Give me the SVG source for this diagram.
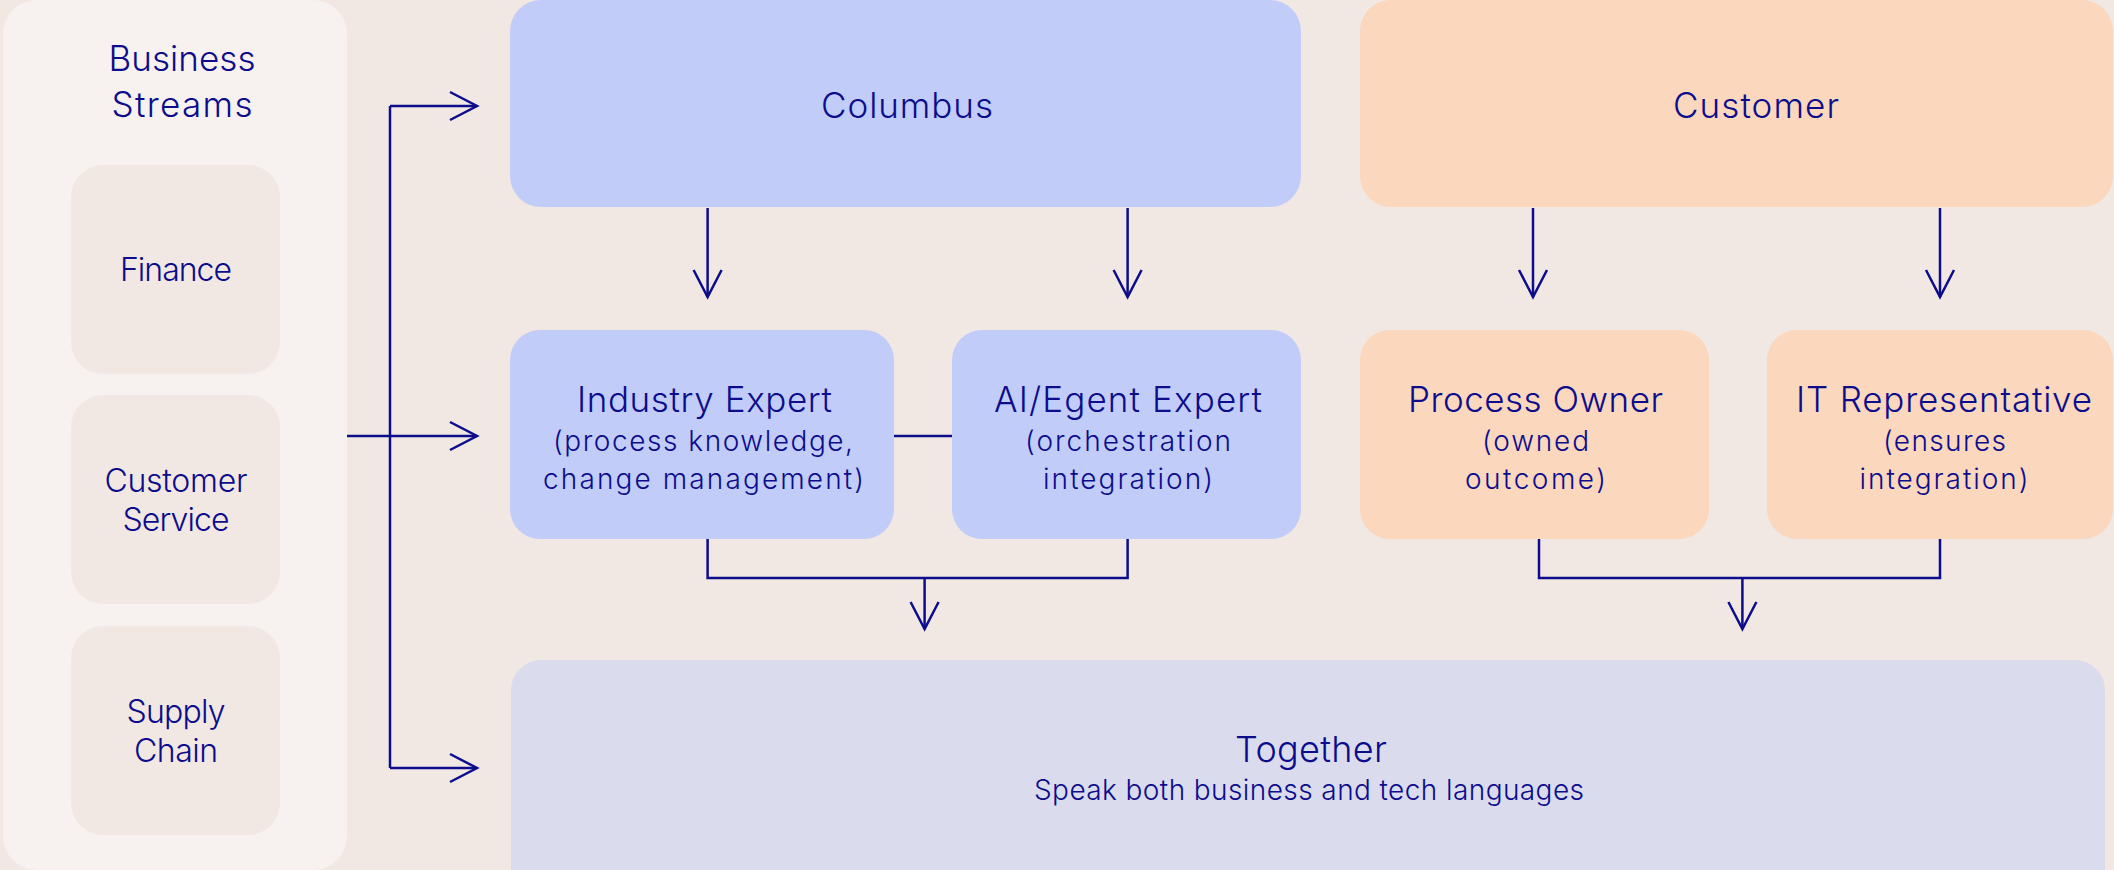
<svg xmlns="http://www.w3.org/2000/svg" width="2114" height="870" viewBox="0 0 2114 870">
<defs>
<style>
.t{font-family:Inter,"Liberation Sans",Arial,sans-serif;fill:#0c0c8c;text-anchor:middle;font-weight:300}
.h{font-size:35px}
.s{font-size:32px}
.d{font-size:28px}
.c{fill:none;stroke:#0c0c8c;stroke-width:2.5}
.ar{marker-end:url(#ah)}
.blue{fill:#c2ccf9}
.peach{fill:#fad7bd}
</style>
<marker id="ah" markerUnits="userSpaceOnUse" markerWidth="32" markerHeight="34" refX="28" refY="16" orient="auto" overflow="visible">
<path d="M1,2 L28,16 L1,30" fill="none" stroke="#0c0c8c" stroke-width="2.5" stroke-linejoin="miter"/>
</marker>
</defs>
<rect x="0" y="0" width="2114" height="870" fill="#f2e8e3"/>

<g id="business-streams">
<rect x="3" y="0" width="344" height="870" rx="34" fill="#f7f2ef"/>
<text class="t h" x="182" y="70.7" textLength="147" lengthAdjust="spacing">Business</text>
<text class="t h" x="182" y="117.3" textLength="141" lengthAdjust="spacing">Streams</text>
</g>
<g id="finance">
<rect x="71" y="165" width="209" height="209" rx="32" fill="#f2e8e3"/>
<text class="t s" x="176" y="281" textLength="112" lengthAdjust="spacing">Finance</text>
</g>
<g id="customer-service">
<rect x="71" y="395" width="209" height="209" rx="32" fill="#f2e8e3"/>
<text class="t s" x="176" y="492.3" textLength="143" lengthAdjust="spacing">Customer</text>
<text class="t s" x="176" y="530.7" textLength="107" lengthAdjust="spacing">Service</text>
</g>
<g id="supply-chain">
<rect x="71" y="626" width="209" height="209" rx="32" fill="#f2e8e3"/>
<text class="t s" x="176" y="723.3" textLength="99" lengthAdjust="spacing">Supply</text>
<text class="t s" x="176" y="761.7" textLength="84" lengthAdjust="spacing">Chain</text>
</g>

<g id="columbus">
<rect class="blue" x="510" y="0" width="791" height="207" rx="31"/>
<text class="t h" x="907" y="118" textLength="172" lengthAdjust="spacing">Columbus</text>
</g>
<g id="customer">
<rect class="peach" x="1360" y="0" width="753" height="207" rx="31"/>
<text class="t h" x="1756" y="118.3" textLength="166" lengthAdjust="spacing">Customer</text>
</g>

<g id="industry-expert">
<rect class="blue" x="510" y="330" width="384" height="209" rx="30"/>
<text class="t h" x="704.5" y="411.5" textLength="255" lengthAdjust="spacing">Industry Expert</text>
<text class="t d" x="703" y="450.5" textLength="300" lengthAdjust="spacing">(process knowledge,</text>
<text class="t d" x="703.5" y="488.5" textLength="321" lengthAdjust="spacing">change management)</text>
</g>
<g id="ai-egent-expert">
<rect class="blue" x="952" y="330" width="349" height="209" rx="30"/>
<text class="t h" x="1128" y="411.5" textLength="268" lengthAdjust="spacing">AI/Egent Expert</text>
<text class="t d" x="1128" y="450.5" textLength="206" lengthAdjust="spacing">(orchestration</text>
<text class="t d" x="1128" y="488.5" textLength="170" lengthAdjust="spacing">integration)</text>
</g>
<g id="process-owner">
<rect class="peach" x="1360" y="330" width="349" height="209" rx="30"/>
<text class="t h" x="1535.5" y="411.5" textLength="255" lengthAdjust="spacing">Process Owner</text>
<text class="t d" x="1535.5" y="450.5" textLength="107" lengthAdjust="spacing">(owned</text>
<text class="t d" x="1535.5" y="488.5" textLength="141" lengthAdjust="spacing">outcome)</text>
</g>
<g id="it-representative">
<rect class="peach" x="1767" y="330" width="346" height="209" rx="30"/>
<text class="t h" x="1944" y="411.5" textLength="296" lengthAdjust="spacing">IT Representative</text>
<text class="t d" x="1944.5" y="450.5" textLength="123" lengthAdjust="spacing">(ensures</text>
<text class="t d" x="1944" y="488.5" textLength="169" lengthAdjust="spacing">integration)</text>
</g>

<g id="together">
<rect x="511" y="660" width="1594" height="240" rx="30" fill="#dadcee"/>
<text class="t" style="font-size:36px" x="1311" y="761.7" textLength="152" lengthAdjust="spacing">Together</text>
<text class="t" style="font-size:28px" x="1309" y="800" textLength="550" lengthAdjust="spacing">Speak both business and tech languages</text>
</g>

<g id="connectors">
<path class="c" d="M390,106 V768"/>
<path class="c ar" d="M390,106 H477"/>
<path class="c ar" d="M347,436 H477"/>
<path class="c ar" d="M390,768 H477"/>
<path class="c ar" d="M707.6,208 V297"/>
<path class="c ar" d="M1127.6,208 V297"/>
<path class="c ar" d="M1533,208 V297"/>
<path class="c ar" d="M1940,208 V297"/>
<path class="c" d="M894,436 H952"/>
<path class="c" d="M707.6,539 V578 H1127.6 V539"/>
<path class="c ar" d="M924.6,578 V629"/>
<path class="c" d="M1539,539 V578 H1940 V539"/>
<path class="c ar" d="M1742.4,578 V629"/>
</g>
</svg>
